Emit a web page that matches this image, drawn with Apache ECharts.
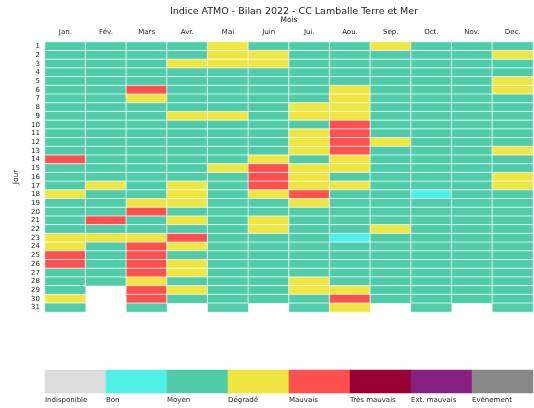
<!DOCTYPE html>
<html>
<head>
<meta charset="utf-8">
<script src="https://cdn.jsdelivr.net/npm/echarts@6/dist/echarts.min.js"></script>
<style>
  html, body { margin: 0; padding: 0; background: #fff; }
  #chart { width: 534px; height: 408px; }
</style>
</head>
<body>
<div id="chart"></div>
<script>
// ATMO index per day, 0 = Indisponible ... 7 = Evènement
const months = ["Jan.", "Fév.", "Mars", "Avr.", "Mai", "Juin", "Jui.", "Aou.", "Sep.", "Oct.", "Nov.", "Dec."];
const levels = ["Indisponible", "Bon", "Moyen", "Dégradé", "Mauvais", "Très mauvais", "Ext. mauvais", "Evènement"];
const levelColors = ["#dcdcdc", "#50f0e6", "#50ccaa", "#f0e641", "#ff5050", "#960032", "#872181", "#888888"];

const jan  = [2,2,2,2,2,2,2,2,2,2, 2,2,2,4,2,2,2,3,2,2, 2,2,3,3,4,4,2,2,2,3, 2];
const fev  = [2,2,2,2,2,2,2,2,2,2, 2,2,2,2,2,2,3,2,2,2, 4,2,3,2,2,2,2,2];
const mars = [2,2,2,2,2,4,3,2,2,2, 2,2,2,2,2,2,2,2,3,4, 2,2,3,4,4,4,4,3,4,4, 2];
const avr  = [2,2,3,2,2,2,2,2,3,2, 2,2,2,2,2,2,3,3,3,2, 3,2,4,3,2,3,3,2,3,2];
const mai  = [3,3,3,2,2,2,2,2,3,2, 2,2,2,2,3,2,2,2,2,2, 2,2,2,2,2,2,2,2,2,2, 2];
const juin = [2,3,3,2,2,2,2,2,2,2, 2,2,2,3,4,4,4,3,2,2, 3,3,2,2,2,2,2,2,2,2];
const jui  = [2,2,2,2,2,2,2,3,3,2, 3,3,3,2,3,3,3,4,3,2, 2,2,2,2,2,2,2,3,3,2, 2];
const aou  = [2,2,2,2,2,3,3,3,3,4, 4,4,4,3,3,2,3,2,2,2, 2,2,1,2,2,2,2,2,3,4, 3];
const sep  = [3,2,2,2,2,2,2,2,2,2, 2,3,2,2,2,2,2,2,2,2, 2,3,2,2,2,2,2,2,2,2];
const oct  = [2,2,2,2,2,2,2,2,2,2, 2,2,2,2,2,2,2,1,2,2, 2,2,2,2,2,2,2,2,2,2, 2];
const nov  = [2,2,2,2,2,2,2,2,2,2, 2,2,2,2,2,2,2,2,2,2, 2,2,2,2,2,2,2,2,2,2];
const dec  = [2,3,2,2,3,3,2,2,2,2, 2,2,3,2,2,3,3,2,2,2, 2,2,2,2,2,2,2,2,2,2, 2];

const yearData = [jan, fev, mars, avr, mai, juin, jui, aou, sep, oct, nov, dec];
const days = Array.from({ length: 31 }, (_, i) => String(i + 1));

const font = "DejaVu Sans";

const cells = [];
yearData.forEach((arr, m) => {
  arr.forEach((v, d) => cells.push([m, d, v]));
});
const legendCells = levels.map((name, i) => [i, 0, i]);

const chart = echarts.init(document.getElementById("chart"));
chart.setOption({
  animation: false,
  textStyle: { fontFamily: font },
  title: {
    text: "Indice ATMO - Bilan 2022 - CC Lamballe Terre et Mer",
    left: 289,
    textAlign: "center",
    top: 2,
    textStyle: { fontFamily: font, fontSize: 9.5, fontWeight: "normal", color: "#222" }
  },
  grid: [
    { left: 45, right: 1, top: 42, height: 270 },
    { left: 45, right: 1, top: 370, height: 23 }
  ],
  visualMap: {
    type: "piecewise",
    show: false,
    dimension: 2,
    seriesIndex: [0, 1],
    pieces: levelColors.map((c, i) => ({ value: i, color: c }))
  },
  xAxis: [
    {
      type: "category",
      gridIndex: 0,
      data: months,
      position: "top",
      name: "Mois",
      nameLocation: "middle",
      nameGap: 12,
      nameTextStyle: { fontFamily: font, fontSize: 7.5, color: "#222" },
      axisLine: { show: false },
      axisTick: { show: false },
      axisLabel: { fontFamily: font, fontSize: 7, color: "#222", margin: 6 },
      splitLine: { show: false }
    },
    {
      type: "category",
      gridIndex: 1,
      data: levels,
      axisLine: { show: false },
      axisTick: { show: false },
      axisLabel: { show: false }
    },
    {
      type: "value",
      gridIndex: 1,
      min: 0,
      max: 8,
      interval: 1,
      position: "bottom",
      axisLine: { show: false },
      axisTick: { show: false },
      splitLine: { show: false },
      axisLabel: {
        fontFamily: font,
        fontSize: 7,
        color: "#222",
        align: "left",
        margin: 4,
        showMaxLabel: false,
        formatter: (v) => levels[v] || ""
      }
    }
  ],
  yAxis: [
    {
      type: "category",
      gridIndex: 0,
      data: days,
      inverse: true,
      name: "Jour",
      nameLocation: "middle",
      nameGap: 14,
      nameRotate: 90,
      nameTextStyle: { fontFamily: font, fontSize: 7.5, color: "#222" },
      axisLine: { show: false },
      axisTick: { show: false },
      axisLabel: { fontFamily: font, fontSize: 7, color: "#222", margin: 5, interval: 0 },
      splitLine: { show: false }
    },
    {
      type: "category",
      gridIndex: 1,
      data: [""],
      axisLine: { show: false },
      axisTick: { show: false },
      axisLabel: { show: false }
    }
  ],
  series: [
    {
      type: "heatmap",
      xAxisIndex: 0,
      yAxisIndex: 0,
      data: cells,
      itemStyle: { borderColor: "rgba(255,255,255,0.75)", borderWidth: 1 }
    },
    {
      type: "heatmap",
      xAxisIndex: 1,
      yAxisIndex: 1,
      data: legendCells,
      itemStyle: { borderWidth: 0 }
    }
  ]
});
</script>
</body>
</html>
